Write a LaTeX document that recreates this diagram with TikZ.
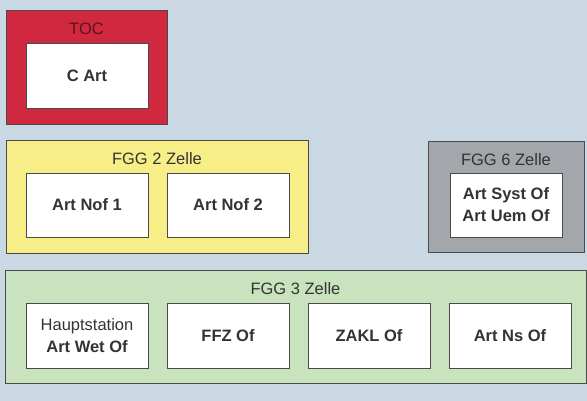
\documentclass[tikz,border=0pt]{standalone}
\usepackage{fontspec}
\setmainfont{Liberation Sans}
\usetikzlibrary{positioning}
\definecolor{bgblue}{HTML}{C9D8E3}
\definecolor{tocred}{HTML}{D0283F}
\definecolor{fggyellow}{HTML}{F8EE88}
\definecolor{fgggray}{HTML}{A3A6AB}
\definecolor{fgggreen}{HTML}{C8E3BD}
\definecolor{edgegray}{HTML}{4A4A4A}
\definecolor{textgray}{HTML}{333333}

\begin{document}
\begin{tikzpicture}[
      x=1pt, y=-1pt,
      every node/.style={font=\fontsize{16.5}{22}\selectfont, text=textgray},
      cellbox/.style={draw=edgegray, line width=0.8pt, minimum height=113pt, inner sep=0pt},
      unitbox/.style={draw=edgegray, line width=0.8pt, fill=white, minimum width=122pt, minimum height=64pt, align=center, font=\fontsize{16.5}{22}\selectfont\bfseries},
      celltitle/.style={inner sep=0pt, below=13pt of #1},
    ]
    % Background
    \fill[bgblue] (0,0) rectangle (587,401);

    % TOC
    \node[cellbox, fill=tocred, minimum width=161pt, minimum height=114pt] (toc) at (86.5,67) {};
    \node[celltitle=toc.north, text=tocred!45!black] (toct) {TOC};
    \node[unitbox, minimum height=65pt] (cart) at (87,75.5) {C Art};

    % FGG 2 Zelle
    \node[cellbox, fill=fggyellow, minimum width=302pt] (fgg2) at (157,196.5) {};
    \node[celltitle=fgg2.north] (fgg2t) {FGG 2 Zelle};
    \node[unitbox] (nof1) at (87,205) {Art Nof 1};
    \node[unitbox] (nof2) at (228,205) {Art Nof 2};

    % FGG 6 Zelle
    \node[cellbox, fill=fgggray, minimum width=156pt, minimum height=111pt] (fgg6) at (506,196.5) {};
    \node[celltitle=fgg6.north] (fgg6t) {FGG 6 Zelle};
    \node[unitbox, minimum width=112pt] (syst) at (506,205) {Art Syst Of\\Art Uem Of};

    % FGG 3 Zelle
    \node[cellbox, fill=fgggreen, minimum width=581pt] (fgg3) at (295.5,326.5) {};
    \node[celltitle=fgg3.north] (fgg3t) {FGG 3 Zelle};
    \node[unitbox, minimum height=65pt] (wet) at (87,335.5) {\mdseries Hauptstation\\Art Wet Of};
    \node[unitbox, minimum height=65pt] (ffz) at (228,335.5) {FFZ Of};
    \node[unitbox, minimum height=65pt] (zakl) at (369,335.5) {ZAKL Of};
    \node[unitbox, minimum height=65pt] (ns) at (510,335.5) {Art Ns Of};
  \end{tikzpicture}
\end{document}
